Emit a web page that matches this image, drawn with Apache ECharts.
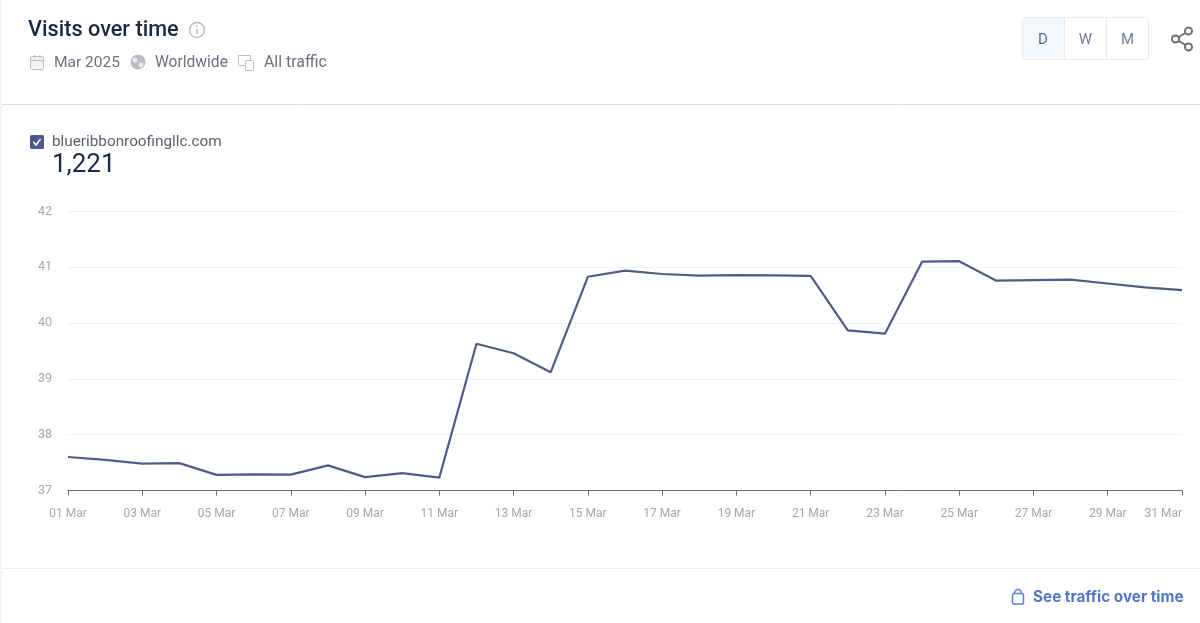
<!DOCTYPE html>
<html>
<head>
<meta charset="utf-8">
<title>Visits over time</title>
<script src="https://cdn.jsdelivr.net/npm/echarts@6/dist/echarts.min.js"></script>
<style>
    html, body { margin: 0; padding: 0; background: #fff; }
    #chart { width: 1200px; height: 623px; }
</style>
</head>
<body>
<div id="chart"></div>
<script>
    var days = ['01 Mar', '02 Mar', '03 Mar', '04 Mar', '05 Mar', '06 Mar', '07 Mar', '08 Mar', '09 Mar', '10 Mar', '11 Mar',
        '12 Mar', '13 Mar', '14 Mar', '15 Mar', '16 Mar', '17 Mar', '18 Mar', '19 Mar', '20 Mar', '21 Mar',
        '22 Mar', '23 Mar', '24 Mar', '25 Mar', '26 Mar', '27 Mar', '28 Mar', '29 Mar', '30 Mar', '31 Mar'];
    var visits = [37.60, 37.55, 37.48, 37.49, 37.28, 37.29, 37.285, 37.45, 37.24, 37.31, 37.23,
        39.63, 39.46, 39.12, 40.83, 40.94, 40.88, 40.85, 40.86, 40.855, 40.845,
        39.87, 39.81, 41.10, 41.11, 40.76, 40.77, 40.78, 40.71, 40.64, 40.59];
    var siteName = 'blueribbonroofingllc.com';
    var totalVisits = '1,221';
    var periodButtons = ['D', 'W', 'M'];

    var font = 'Roboto, sans-serif';
    var grey = '#6c717d';
    var iconGrey = '#b9bcc2';

    function label(x, y, text, size, color, weight, family, align) {
        return {
            type: 'text', x: x, y: y,
            style: {
                text: text, fontSize: size, fill: color, fontWeight: weight || 400,
                fontFamily: family || font, textVerticalAlign: 'middle', textAlign: align || 'left'
            }
        };
    }
    function line(x1, y1, x2, y2, color, w) {
        return {type: 'line', shape: {x1: x1, y1: y1, x2: x2, y2: y2}, style: {stroke: color, lineWidth: w || 1}};
    }

    var parts = [
        // page edges and dividers
        {type: 'rect', shape: {x: 0, y: 0, width: 2, height: 623}, style: {fill: '#f3f3f4'}},
        line(2, 104.5, 1200, 104.5, '#d9dadf'),
        line(2, 568.5, 1200, 568.5, '#ececee'),

        // header
        label(28, 31, 'Visits over time', 21.7, '#1a2842', 500),
        {type: 'circle', shape: {cx: 197, cy: 30, r: 7.5}, style: {fill: 'none', stroke: iconGrey, lineWidth: 1.5}},
        line(197, 29, 197, 34.5, iconGrey, 1.5),
        line(197, 25.5, 197, 27, iconGrey, 1.5),

        {type: 'rect', shape: {x: 30.5, y: 56.5, width: 13, height: 13, r: 1}, style: {fill: '#f4f4f5', stroke: iconGrey}},
        line(30.5, 60.5, 43.5, 60.5, iconGrey),
        line(34, 55, 34, 58, iconGrey),
        line(40, 55, 40, 58, iconGrey),
        label(54, 63, 'Mar 2025', 15.5, grey),

        {type: 'circle', shape: {cx: 138, cy: 62, r: 7.5}, style: {fill: iconGrey}},
        {type: 'circle', shape: {cx: 135, cy: 60, r: 2.6}, style: {fill: '#e9eaec'}},
        {type: 'circle', shape: {cx: 141, cy: 65, r: 2.4}, style: {fill: '#e9eaec'}},
        label(155, 63, 'Worldwide', 15.6, grey),

        {type: 'rect', shape: {x: 238.5, y: 55.5, width: 12, height: 10}, style: {fill: 'none', stroke: iconGrey}},
        {type: 'rect', shape: {x: 245.5, y: 60.5, width: 8, height: 10, r: 1}, style: {fill: '#fff', stroke: iconGrey}},
        label(264, 63, 'All traffic', 15.9, grey),

        // period switch
        {type: 'rect', shape: {x: 1022.5, y: 17.5, width: 126, height: 42, r: 3}, style: {fill: '#fff', stroke: '#e8eaee'}},
        {type: 'rect', shape: {x: 1023, y: 18, width: 41, height: 41, r: [3, 0, 0, 3]}, style: {fill: '#f4f8fb'}},
        line(1064.5, 18, 1064.5, 59, '#e8eaee'),
        line(1106.5, 18, 1106.5, 59, '#e8eaee'),
        label(1043, 40, periodButtons[0], 15, '#4f6fae', 400, font, 'center'),
        label(1085.5, 40, periodButtons[1], 15, '#757a99', 400, font, 'center'),
        label(1127.5, 40, periodButtons[2], 15, '#757a99', 400, font, 'center'),

        // share icon
        line(1175.5, 39, 1188, 31.5, '#6d6f75', 2),
        line(1175.5, 39, 1188, 46.5, '#6d6f75', 2),
        {type: 'circle', shape: {cx: 1175.5, cy: 39, r: 3.5}, style: {fill: '#fff', stroke: '#6d6f75', lineWidth: 2}},
        {type: 'circle', shape: {cx: 1188.5, cy: 31, r: 3.5}, style: {fill: '#fff', stroke: '#6d6f75', lineWidth: 2}},
        {type: 'circle', shape: {cx: 1188.5, cy: 47, r: 3.5}, style: {fill: '#fff', stroke: '#6d6f75', lineWidth: 2}},

        // legend
        {type: 'rect', shape: {x: 30, y: 135, width: 14, height: 14, r: 1.5}, style: {fill: '#4a5a8f'}},
        {type: 'polyline', shape: {points: [[33.5, 142], [36, 145], [40.5, 139]]}, style: {fill: 'none', stroke: '#fff', lineWidth: 1.5}},
        label(52, 142.5, siteName, 15.3, '#5c606a'),
        label(52, 165, totalVisits, 26, '#1b2a4a'),

        // footer link
        {type: 'rect', shape: {x: 1012.5, y: 593.5, width: 11, height: 10.5, r: 1.5}, style: {fill: 'none', stroke: '#5b80c8', lineWidth: 1.5}},
        {type: 'arc', shape: {cx: 1018, cy: 593, r: 3.5, startAngle: Math.PI, endAngle: 0}, style: {fill: 'none', stroke: '#5b80c8', lineWidth: 1.5}},
        label(1033, 597, 'See traffic over time', 15.3, '#5278c4', 700, 'Inter, sans-serif')
    ];

    var chart = echarts.init(document.getElementById('chart'), null, {renderer: 'canvas'});
    chart.setOption({
        animation: false,
        backgroundColor: '#fff',
        grid: {left: 68, right: 18, top: 211.5, bottom: 132.5},
        xAxis: {
            type: 'category',
            data: days,
            boundaryGap: false,
            axisLine: {lineStyle: {color: '#6b6e78', width: 1}},
            axisTick: {interval: 1, length: 5, lineStyle: {color: '#6b6e78'}},
            axisLabel: {
                interval: 1, margin: 17, fontSize: 12, color: '#a4a6aa', fontFamily: font,
                alignMaxLabel: 'right'
            }
        },
        yAxis: {
            type: 'value',
            min: 37,
            max: 42,
            interval: 1,
            axisLine: {show: false},
            axisTick: {show: false},
            axisLabel: {margin: 16, fontSize: 12.5, color: '#a4a6aa', fontFamily: font},
            splitLine: {lineStyle: {color: '#f1f1f3', width: 1}}
        },
        series: [{
            name: siteName,
            type: 'line',
            data: visits,
            symbol: 'none',
            lineStyle: {color: '#4f5c88', width: 2.2}
        }],
        graphic: {elements: parts}
    });
</script>
</body>
</html>
